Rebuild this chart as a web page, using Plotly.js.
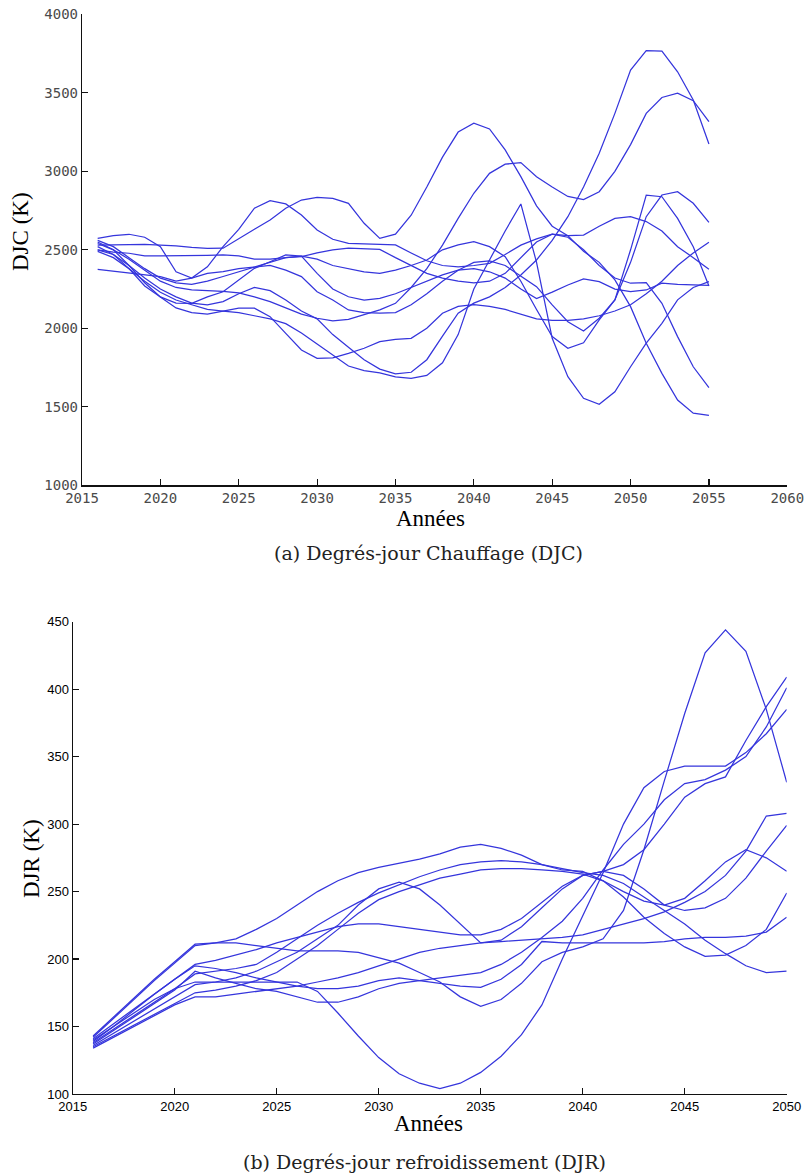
<!DOCTYPE html>
<html><head><meta charset="utf-8">
<script src="https://cdn.plot.ly/plotly-3.0.1.min.js"></script>
<style>html,body{margin:0;padding:0;background:#fff}#chart{width:806px;height:1176px}</style>
</head><body><div id="chart"></div>
<script>
// ---------- (a) DJC ----------
const yearsDJC = [2016,2017,2018,2019,2020,2021,2022,2023,2024,2025,2026,2027,2028,2029,2030,2031,2032,2033,2034,2035,2036,2037,2038,2039,2040,2041,2042,2043,2044,2045,2046,2047,2048,2049,2050,2051,2052,2053,2054,2055];
const djc1 = [2573,2590,2599,2580,2520,2360,2320,2392,2520,2630,2765,2813,2792,2722,2626,2567,2541,2537,2535,2531,2480,2430,2400,2392,2400,2414,2470,2530,2570,2600,2590,2594,2650,2700,2711,2680,2620,2520,2450,2376];
const djc2 = [2530,2533,2535,2535,2530,2525,2515,2509,2510,2573,2631,2690,2765,2817,2834,2828,2796,2669,2573,2600,2720,2900,3090,3250,3306,3270,3136,2966,2780,2650,2590,2490,2420,2308,2138,1905,1713,1543,1459,1446];
const djc3 = [2540,2500,2440,2370,2300,2260,2245,2240,2235,2225,2200,2170,2130,2090,2064,2048,2057,2085,2117,2159,2260,2380,2530,2700,2860,2987,3045,3055,2965,2900,2840,2820,2870,3000,3170,3369,3470,3497,3450,3316];
const djc4 = [2500,2470,2400,2320,2250,2200,2160,2150,2170,2220,2260,2240,2180,2110,2060,1960,1880,1800,1740,1710,1720,1800,1950,2096,2160,2200,2260,2340,2435,2560,2711,2900,3115,3369,3645,3768,3766,3634,3454,3174];
const djc5 = [2490,2450,2380,2300,2230,2180,2150,2120,2110,2100,2080,2060,2030,1970,1900,1830,1760,1730,1716,1690,1681,1700,1780,1960,2250,2435,2620,2792,2420,1936,1692,1554,1516,1596,1755,1905,2032,2181,2260,2297];
const djc6 = [2560,2520,2450,2380,2320,2290,2280,2300,2330,2360,2390,2420,2450,2460,2440,2400,2380,2360,2350,2370,2400,2435,2500,2531,2552,2520,2456,2300,2120,1947,1873,1908,2053,2181,2420,2711,2849,2870,2796,2675];
const djc7 = [2550,2500,2400,2290,2200,2130,2100,2090,2110,2128,2128,2074,1968,1862,1809,1812,1840,1873,1915,1930,1936,2000,2096,2140,2150,2140,2120,2090,2060,2050,2050,2060,2080,2110,2150,2220,2300,2400,2480,2548];
const djc8 = [2376,2365,2350,2340,2329,2300,2320,2350,2361,2380,2392,2400,2370,2329,2233,2180,2117,2100,2096,2100,2150,2220,2300,2370,2420,2430,2400,2330,2265,2149,2042,1983,2064,2181,2500,2848,2838,2700,2520,2269];
const djc9 = [2499,2485,2478,2461,2461,2461,2462,2465,2467,2461,2440,2440,2450,2456,2480,2499,2510,2505,2503,2450,2400,2350,2320,2300,2290,2300,2350,2450,2550,2600,2580,2500,2400,2320,2287,2291,2159,1947,1755,1622];
const djc10 = [2520,2470,2380,2270,2200,2160,2159,2200,2233,2308,2382,2424,2467,2460,2350,2250,2201,2180,2190,2220,2260,2300,2340,2370,2380,2360,2320,2250,2190,2230,2276,2314,2297,2250,2233,2244,2287,2280,2276,2274];
const djcTickYears = [2015,2020,2025,2030,2035,2040,2045,2050,2055,2060];
const djcTickValues = [1000,1500,2000,2500,3000,3500,4000];

// ---------- (b) DJR ----------
const yearsDJR = [2016,2017,2018,2019,2020,2021,2022,2023,2024,2025,2026,2027,2028,2029,2030,2031,2032,2033,2034,2035,2036,2037,2038,2039,2040,2041,2042,2043,2044,2045,2046,2047,2048,2049,2050];
const djr1 = [140,150,160,170,178,183,183,183,183,183,183,176,160,143,127,115,108,104,108,116,128,144,166,200,232,264,300,327,339,343,343,343,353,367,385];
const djr2 = [143,157,171,185,198,211,212,212,210,208,206,206,206,205,201,197,190,183,172,165,170,182,198,205,209,215,236,281,332,382,427,444,428,385,331];
const djr3 = [142,156,170,184,197,210,212,215,222,230,240,250,258,264,268,271,274,278,283,285,282,277,270,266,265,258,246,231,219,209,202,203,210,222,249];
const djr4 = [139,150,162,174,185,195,193,190,186,183,180,178,178,180,184,186,184,182,180,179,185,196,213,212,212,212,212,212,213,215,216,216,217,220,231];
const djr5 = [138,148,158,168,178,189,191,193,196,205,215,225,234,242,249,255,261,266,270,272,273,272,270,267,264,262,256,246,236,226,214,204,195,190,191];
const djr6 = [136,145,154,163,172,181,183,186,191,198,205,215,225,240,252,257,252,240,226,212,214,224,238,252,262,265,262,252,240,236,238,245,260,280,299];
const djr7 = [135,143,151,159,167,175,177,180,184,190,200,210,222,234,244,250,255,260,263,266,267,267,266,265,263,258,250,243,240,245,258,272,281,275,265];
const djr8 = [137,147,157,167,177,191,186,182,178,176,172,168,168,172,178,182,184,186,188,190,196,205,216,228,245,266,285,300,318,330,333,340,350,372,401];
const djr9 = [141,152,163,174,185,196,199,203,207,212,216,220,224,226,226,224,222,220,218,218,222,230,242,254,262,265,270,281,300,320,330,335,362,387,409];
const djr10 = [134,142,150,158,166,172,172,174,176,178,180,183,186,190,195,200,205,208,210,212,213,214,215,216,218,222,226,230,235,242,250,262,280,306,308];
const djrTickYears = [2015,2020,2025,2030,2035,2040,2045,2050];
const djrTickValues = [100,150,200,250,300,350,400,450];

const W = 806, H = 1176;
const lineStyle = {color: '#3535dc', width: 1.25};
const djcSeries = [djc1,djc2,djc3,djc4,djc5,djc6,djc7,djc8,djc9,djc10];
const djrSeries = [djr1,djr2,djr3,djr4,djr5,djr6,djr7,djr8,djr9,djr10];
const traces = [];
djcSeries.forEach(s => traces.push({x: yearsDJC, y: s, xaxis: 'x', yaxis: 'y', mode: 'lines', line: lineStyle, hoverinfo: 'skip'}));
djrSeries.forEach(s => traces.push({x: yearsDJR, y: s, xaxis: 'x2', yaxis: 'y2', mode: 'lines', line: lineStyle, hoverinfo: 'skip'}));

const px = v => v / W, py = v => 1 - v / H;
const axBase = {showline: true, linecolor: '#111', linewidth: 1.2, ticks: 'inside', ticklen: 6, tickwidth: 1.2, tickcolor: '#111', showgrid: false, zeroline: false, mirror: false, fixedrange: true};
const monoFont = {family: 'DejaVu Sans Mono, monospace', size: 14, color: '#4a4a4a'};
const sansFont = {family: 'Liberation Sans, Arial, sans-serif', size: 13, color: '#000'};

const layout = {
  width: W, height: H, margin: {l: 0, r: 0, t: 0, b: 0},
  paper_bgcolor: '#fff', plot_bgcolor: '#fff', showlegend: false,
  xaxis: Object.assign({}, axBase, {domain: [px(82), px(787.3)], range: [2015, 2060], tickmode: 'array', tickvals: djcTickYears, ticktext: djcTickYears.map(String), tickfont: monoFont, anchor: 'y'}),
  yaxis: Object.assign({}, axBase, {domain: [py(485.3), py(14.3)], range: [1000, 4000], tickmode: 'array', tickvals: djcTickValues, ticktext: djcTickValues.map(String), tickfont: monoFont, anchor: 'x'}),
  xaxis2: Object.assign({}, axBase, {domain: [px(72.7), px(786.7)], range: [2015, 2050], tickmode: 'array', tickvals: djrTickYears, ticktext: djrTickYears.map(String), tickfont: sansFont, anchor: 'y2'}),
  yaxis2: Object.assign({}, axBase, {domain: [py(1094), py(621.7)], range: [100, 450], tickmode: 'array', tickvals: djrTickValues, ticktext: djrTickValues.map(String), tickfont: sansFont, anchor: 'x2'}),
  annotations: [
    {text: 'Années', xref: 'paper', yref: 'paper', x: px(430), y: py(518), showarrow: false, xanchor: 'center', yanchor: 'middle', font: {family: 'Liberation Serif, Times New Roman, serif', size: 23, color: '#000'}},
    {text: 'DJC (K)', xref: 'paper', yref: 'paper', x: px(20), y: py(232), showarrow: false, textangle: -90, xanchor: 'center', yanchor: 'middle', font: {family: 'Liberation Serif, Times New Roman, serif', size: 23, color: '#000'}},
    {text: '(a) Degrés-jour Chauffage (DJC)', xref: 'paper', yref: 'paper', x: px(428), y: py(553), showarrow: false, xanchor: 'center', yanchor: 'middle', font: {family: 'DejaVu Serif, serif', size: 19, color: '#222'}},
    {text: 'Années', xref: 'paper', yref: 'paper', x: px(428), y: py(1123), showarrow: false, xanchor: 'center', yanchor: 'middle', font: {family: 'Liberation Serif, Times New Roman, serif', size: 23, color: '#000'}},
    {text: 'DJR (K)', xref: 'paper', yref: 'paper', x: px(31), y: py(859), showarrow: false, textangle: -90, xanchor: 'center', yanchor: 'middle', font: {family: 'Liberation Serif, Times New Roman, serif', size: 23, color: '#000'}},
    {text: '(b) Degrés-jour refroidissement (DJR)', xref: 'paper', yref: 'paper', x: px(424), y: py(1162), showarrow: false, xanchor: 'center', yanchor: 'middle', font: {family: 'DejaVu Serif, serif', size: 19, color: '#222'}}
  ]
};
Plotly.newPlot('chart', traces, layout, {staticPlot: true, displayModeBar: false});
</script>
</body></html>
